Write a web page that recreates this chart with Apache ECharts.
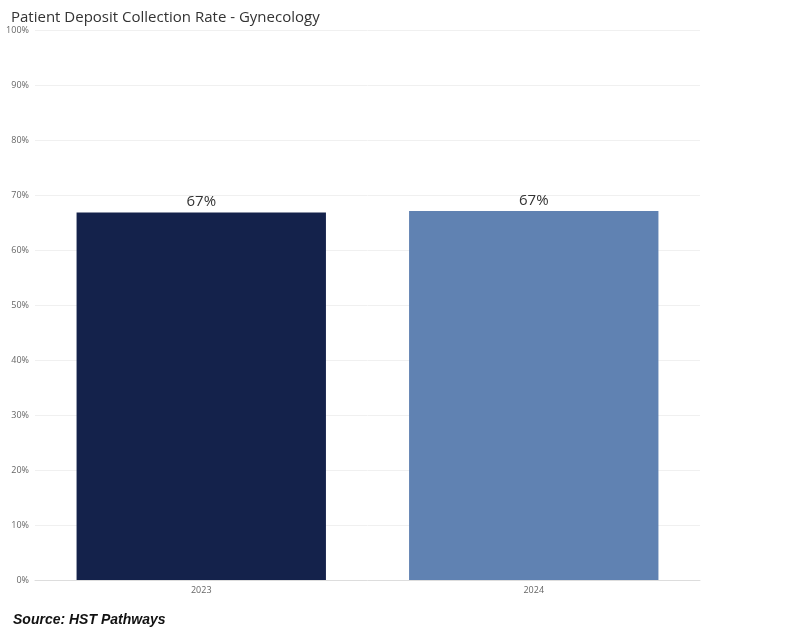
<!DOCTYPE html>
<html>
<head>
<meta charset="utf-8">
<script src="https://cdn.jsdelivr.net/npm/echarts@6/dist/echarts.min.js"></script>
<style>
html,body{margin:0;padding:0;background:#fff;}
#chart{width:800px;height:632px;}
</style>
</head>
<body>
<div id="chart"></div>
<script>
var years = ['2023', '2024'];
var rates = [66.8, 67.1];
var barColors = ['#14224b', '#6082b2'];

var myChart = echarts.init(document.getElementById('chart'));
var option = {
    animation: false,
    title: [{
        text: 'Patient Deposit Collection Rate - Gynecology',
        left: 6, top: 5,
        textStyle: { fontFamily: 'Open Sans, sans-serif', fontSize: 15, fontWeight: 'normal', color: '#333' }
    }, {
        text: 'Source: HST Pathways',
        left: 8, top: 608,
        textStyle: { fontFamily: 'Liberation Sans, Arial, sans-serif', fontSize: 14, fontStyle: 'italic', fontWeight: 'bold', color: '#111' }
    }],
    grid: { left: 35, right: 100, top: 30, bottom: 52 },
    xAxis: {
        type: 'category',
        data: years,
        axisLine: { lineStyle: { color: '#ddd' } },
        axisTick: { show: false },
        axisLabel: { color: '#666', fontSize: 9, fontFamily: 'Open Sans, sans-serif', margin: 6 }
    },
    yAxis: {
        type: 'value',
        min: 0, max: 100, interval: 10,
        axisLabel: { formatter: '{value}%', color: '#666', fontSize: 9, fontFamily: 'Open Sans, sans-serif', margin: 6 },
        splitLine: { lineStyle: { color: '#f0f0f0' } },
        axisLine: { show: false }, axisTick: { show: false }
    },
    series: [{
        type: 'bar',
        barWidth: '75%',
        data: rates.map(function (v, i) { return { value: v, itemStyle: { color: barColors[i] } }; }),
        label: {
            show: true, position: 'top', distance: 3,
            formatter: function (p) { return Math.round(p.value) + '%'; },
            fontSize: 15, fontFamily: 'Open Sans, sans-serif', color: '#333'
        }
    }]
};
myChart.setOption(option);
</script>
</body>
</html>
